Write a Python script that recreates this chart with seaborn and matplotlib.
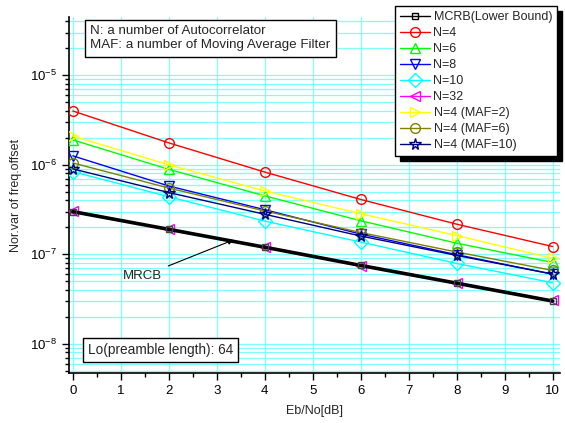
#!/usr/bin/env python
# -*- coding: utf-8 -*-

"""Normalized variance of the frequency offset estimate vs. Eb/No."""

import matplotlib
matplotlib.use("Agg")
import matplotlib.pyplot as plt
import seaborn as sns

# %% Data.

ebno = [0, 2, 4, 6, 8, 10]

mcrb = [3.0e-7, 1.9e-7, 1.2e-7, 7.5e-8, 4.75e-8, 3.0e-8]
n4 = [4.0e-6, 1.76e-6, 8.3e-7, 4.1e-7, 2.17e-7, 1.22e-7]
n6 = [1.9e-6, 8.9e-7, 4.5e-7, 2.37e-7, 1.33e-7, 8.1e-8]
n8 = [1.26e-6, 5.8e-7, 3.15e-7, 1.68e-7, 9.9e-8, 6.0e-8]
n10 = [8.4e-7, 4.4e-7, 2.35e-7, 1.37e-7, 7.9e-8, 4.8e-8]
n32 = [3.05e-7, 1.9e-7, 1.2e-7, 7.4e-8, 4.8e-8, 3.05e-8]
n4_maf2 = [2.1e-6, 1.0e-6, 5.1e-7, 2.84e-7, 1.62e-7, 9.0e-8]
n4_maf6 = [1.05e-6, 5.5e-7, 3.05e-7, 1.75e-7, 1.06e-7, 6.6e-8]
n4_maf10 = [9.0e-7, 4.9e-7, 2.8e-7, 1.6e-7, 9.7e-8, 6.0e-8]

# label, values, colour, marker
series = [
    ("MCRB(Lower Bound)", mcrb, "#000000", "s"),
    ("N=4", n4, "#FF0000", "o"),
    ("N=6", n6, "#00FF00", "^"),
    ("N=8", n8, "#0000FF", "v"),
    ("N=10", n10, "#00FFFF", "D"),
    ("N=32", n32, "#FF00FF", "<"),
    ("N=4 (MAF=2)", n4_maf2, "#FFFF00", ">"),
    ("N=4 (MAF=6)", n4_maf6, "#808000", "o"),
    ("N=4 (MAF=10)", n4_maf10, "#000080", "*"),
]

# %% Plot.

sns.set_theme(style="ticks")
plt.rcParams["font.family"] = ["Liberation Sans", "DejaVu Sans"]
plt.rcParams["mathtext.default"] = "regular"

fig = plt.figure(figsize=(5.65, 4.23), dpi=100)
ax = fig.add_axes([0.122, 0.118, 0.869, 0.842])

for label, values, color, marker in series:
    if label.startswith("MCRB"):
        sns.lineplot(x=ebno, y=values, ax=ax, label=label, color=color,
                     marker=marker, markersize=5, mfc="none", mec="#444444",
                     mew=1.0, linewidth=2.6, zorder=5)
    else:
        ms = 8.5 if marker == "*" else 7
        sns.lineplot(x=ebno, y=values, ax=ax, label=label, color=color,
                     marker=marker, markersize=ms, mfc="none", mec=color,
                     mew=1.0, linewidth=1.0, zorder=4)

ax.set_yscale("log")
ax.set_xlim(-0.08, 10.15)
ax.set_ylim(4.7e-9, 4.5e-5)
ax.set_xticks(range(0, 11))
ax.set_xticks([i + 0.5 for i in range(0, 10)], minor=True)

ax.grid(True, which="major", axis="x", color="#7FFFFF", linewidth=0.9)
ax.grid(True, which="both", axis="y", color="#7FFFFF", linewidth=0.9)
ax.set_axisbelow(True)

for side in ["top", "right"]:
    ax.spines[side].set_visible(False)
for side in ["left", "bottom"]:
    ax.spines[side].set_linewidth(1.2)
    ax.spines[side].set_color("black")

ax.tick_params(which="major", direction="out", length=5, width=1.0,
               labelsize=9.5, colors="black")
ax.tick_params(which="minor", direction="out", length=3, width=1.0,
               colors="black")

ax.set_xlabel("Eb/No[dB]", fontsize=9, labelpad=6)
ax.set_ylabel("Nor.var of freq.offset", fontsize=9, labelpad=6)

ax.text(0.043, 0.976,
        "N: a number of Autocorrelator\nMAF: a number of Moving Average Filter",
        transform=ax.transAxes, ha="left", va="top", fontsize=9.6,
        linespacing=1.2,
        bbox=dict(boxstyle="square,pad=0.4", fc="white", ec="black", lw=1))
ax.text(0.039, 0.065, "Lo(preamble length): 64", transform=ax.transAxes,
        ha="left", va="center", fontsize=9.8,
        bbox=dict(boxstyle="square,pad=0.35", fc="white", ec="black", lw=1))

ax.annotate("MRCB", xy=(3.35, 1.45e-7), xytext=(1.46, 5.7e-8),
            ha="center", va="center", fontsize=9.5,
            arrowprops=dict(arrowstyle="-|>", color="black", lw=0.8,
                            shrinkA=2, shrinkB=0, mutation_scale=8))

leg = ax.legend(loc="upper right", bbox_to_anchor=(557 / 565, 1 - 6 / 423),
                bbox_transform=fig.transFigure, fontsize=9, frameon=True,
                fancybox=False, framealpha=1, edgecolor="black",
                handlelength=2.4, handletextpad=0.3, labelspacing=0.32,
                borderpad=0.4, borderaxespad=0,
                shadow={"ox": 3.5, "oy": -3.5, "facecolor": "black",
                        "edgecolor": "black", "alpha": 1})
leg.get_frame().set_linewidth(1.0)
leg.get_lines()[0].set_linewidth(1.0)
leg.get_lines()[0].set_markeredgecolor("black")
leg.set_zorder(10)

fig.savefig("out.png", dpi=100)
